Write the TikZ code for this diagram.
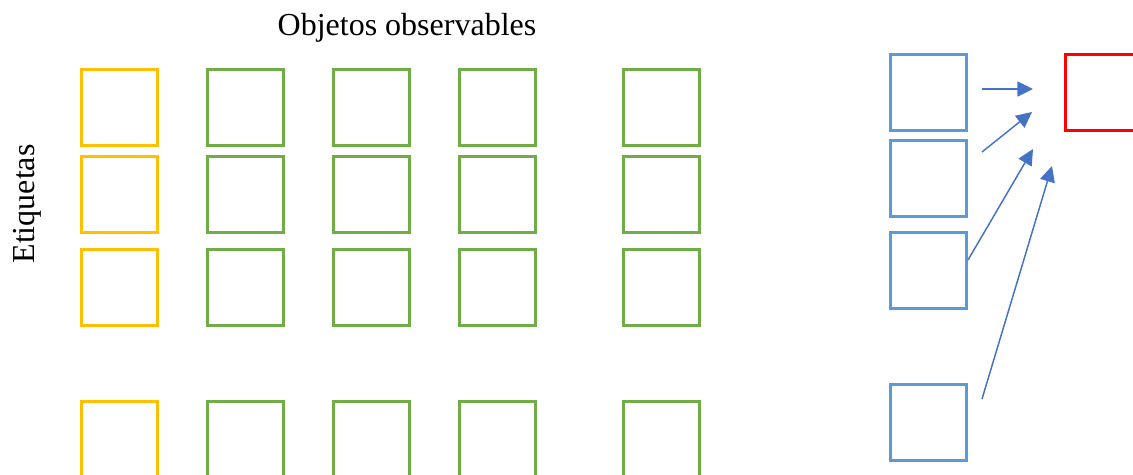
\documentclass[tikz,border=0pt]{standalone}
\usepackage{fontspec}
\setmainfont{Liberation Serif}
\usetikzlibrary{arrows.meta}
\definecolor{cOrange}{HTML}{FFC000}
\definecolor{cGreen}{HTML}{70AD47}
\definecolor{cBlue}{HTML}{5B9BD5}
\definecolor{cRed}{HTML}{FF0000}
\definecolor{cArrow}{HTML}{4472C4}
\tikzset{
  cell/.style={draw, line width=2.25pt, minimum width=57pt, minimum height=57pt, inner sep=0pt, fill=none},
  ocell/.style={cell, draw=cOrange},
  gcell/.style={cell, draw=cGreen},
  bcell/.style={cell, draw=cBlue},
  rcell/.style={cell, draw=cRed},
  link/.style={draw=cArrow, line width=1.1pt, -{Triangle[length=11.8pt, width=11.3pt]}},
  lbl/.style={font=\fontsize{24}{28}\selectfont, inner sep=0pt}
}
\begin{document}
\begin{tikzpicture}[x=0.75pt, y=-0.75pt]
\path[use as bounding box, clip] (0,0) rectangle (1133,475);
\fill[white] (0,0) rectangle (1133,475);
% title and side label
\node[lbl, anchor=base] (title) at (407,35) {Objetos observables};
\node[lbl, anchor=base, rotate=90] (side) at (35,204) {Etiquetas};
% grid of boxes
\foreach \r/\y in {1/107, 2/194, 3/287, 4/439} {
  \node[ocell] (o\r) at (119.5,\y) {};
  \node[gcell] (g1\r) at (245.5,\y) {};
  \node[gcell] (g2\r) at (371.5,\y) {};
  \node[gcell] (g3\r) at (497.5,\y) {};
  \node[gcell] (g4\r) at (661,\y) {};
}
% right part
\node[bcell] (b1) at (928.5,92) {};
\node[bcell] (b2) at (928.5,178.5) {};
\node[bcell] (b3) at (928.5,270.5) {};
\node[bcell] (b4) at (928.5,422.5) {};
\node[rcell] (red) at (1103.5,92) {};
% arrow ends
\coordinate (s1) at (982,89);
\coordinate (t1) at (1033,89);
\coordinate (s2) at (982,152);
\coordinate (t2) at (1032,112);
\coordinate (s3) at (968,260);
\coordinate (t3) at (1033,149);
\coordinate (s4) at (982,399);
\coordinate (t4) at (1052,166);
\draw[link] (s1) -- (t1);
\draw[link] (s2) -- (t2);
\draw[link] (s3) -- (t3);
\draw[link] (s4) -- (t4);
\end{tikzpicture}
\end{document}
